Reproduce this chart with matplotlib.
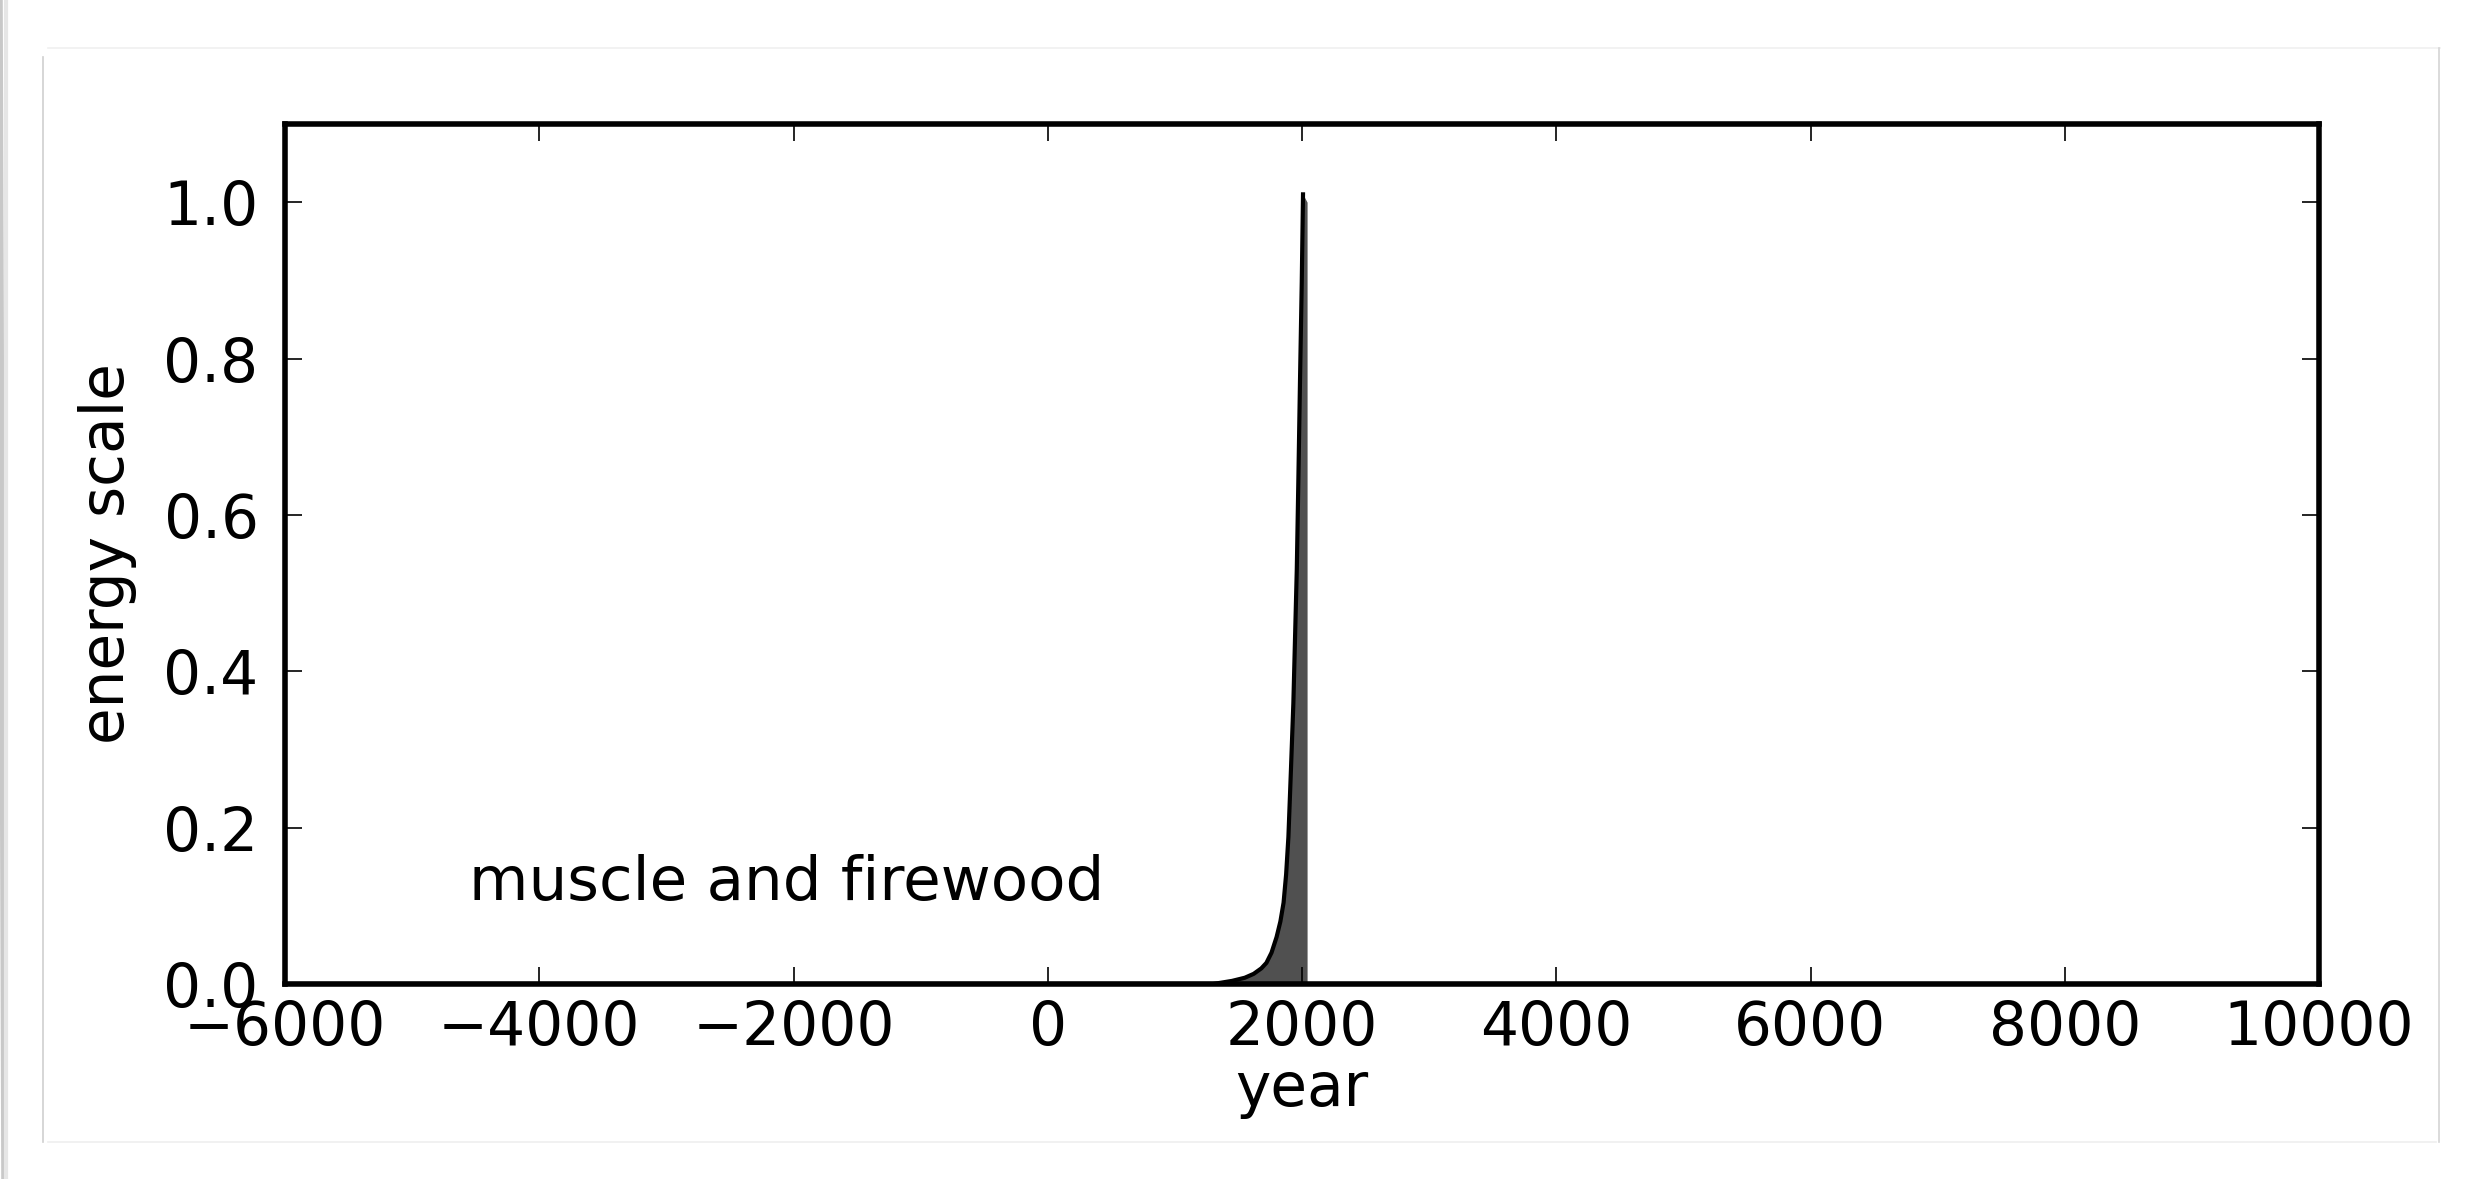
import matplotlib
matplotlib.use('Agg')
import matplotlib.pyplot as plt
from matplotlib.lines import Line2D

# energy curve (year, share of peak)
years = [-6000, 1300, 1450, 1550, 1620, 1680, 1720, 1760, 1800, 1830, 1855, 1875,
         1893, 1913, 1932, 1959, 1971, 1984, 1998, 2008]
energy = [0.0, 0.0, 0.004, 0.008, 0.013, 0.02, 0.027, 0.04, 0.06, 0.08, 0.104, 0.14,
          0.188, 0.274, 0.359, 0.53, 0.641, 0.769, 0.897, 1.01]

# the grey fill runs a little past the peak
fill_end_year = 2040
fill_end_value = 1.0

# flat line after the cut
future_years = [2040, 3000]
future_energy = [0.0, 0.0]

xticks = [-6000, -4000, -2000, 0, 2000, 4000, 6000, 8000, 10000]
yticks = [0.0, 0.2, 0.4, 0.6, 0.8, 1.0]

label_text = 'muscle and firewood'

W, H = 2473, 1179


def px(x, y):
    # pixel position -> figure fraction
    return x / W, 1 - y / H


def frame(fig):
    # the screenshot border round the chart
    lines = [
        ((0, 0), (4, H), '#c8c8c8', 4),
        ((6, 0), (6, H), '#e6e6e6', 3),
        ((43, 57), (43, 1142), '#cfcfcf', 1.2),
        ((48, 48), (2440, 48), '#f0f0f0', 1.2),
        ((2439, 48), (2439, 1142), '#d4d4d4', 1.2),
        ((48, 1142), (2436, 1142), '#efefef', 1.2),
    ]
    for a, b, c, lw in lines:
        x0, y0 = px(*a)
        x1, y1 = px(*b)
        fig.add_artist(Line2D([x0, x1], [y0, y1], color=c, lw=lw, transform=fig.transFigure))


def main():
    fig = plt.figure(figsize=(W / 100, H / 100), dpi=100)
    frame(fig)
    ax = fig.add_axes([285 / W, 1 - 984 / H, 2034 / W, 860 / H])

    fx = years + [fill_end_year]
    fy = energy + [fill_end_value]
    ax.fill_between(fx, fy, 0, color='#505050', lw=0)
    ax.plot(years, energy, color='black', lw=3, solid_joinstyle='round')
    ax.plot(future_years, future_energy, color='black', lw=2.5)

    ax.set_xlim(-6000, 10000)
    ax.set_ylim(0, 1.1)
    ax.set_xticks(xticks)
    ax.set_yticks(yticks)
    ax.set_yticklabels(['%.1f' % v for v in yticks])
    ax.tick_params(direction='in', top=True, right=True, length=12, width=1.2, labelsize=43)
    ax.tick_params(axis='x', pad=11)
    ax.tick_params(axis='y', pad=19)
    for s in ax.spines.values():
        s.set_linewidth(4)

    ax.set_xlabel('year', fontsize=43, labelpad=1)
    ax.set_ylabel('energy scale', fontsize=43, labelpad=19)
    ax.text(-4550, 0.108, label_text, fontsize=44, va='baseline', ha='left')

    fig.savefig('out.png', dpi=100)


if __name__ == '__main__':
    main()
